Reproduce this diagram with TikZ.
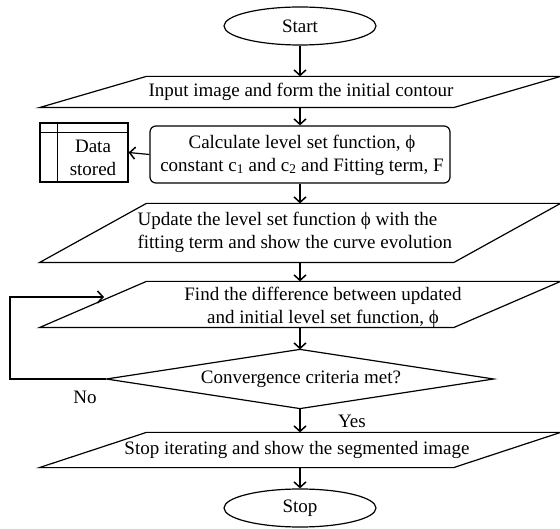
\documentclass[tikz,border=0pt]{standalone}
\usepackage{fontspec}
\setmainfont{Liberation Serif}
\usetikzlibrary{arrows.meta,shapes.geometric}
\begin{document}
\begin{tikzpicture}[x=1pt,y=-1pt,line width=1.2pt,
  arr/.style={-{Straight Barb[length=5.5pt,width=12pt,line width=1.5pt]},line width=1.2pt},
  txt/.style={font=\fontsize{19}{23}\selectfont,inner sep=0pt,align=center},
  term/.style={ellipse,draw,minimum width=152pt,minimum height=38pt,inner sep=0pt,font=\fontsize{19}{23}\selectfont},
  pbox/.style={rectangle,draw=none,minimum width=413pt,inner sep=0pt},
  calcbox/.style={rectangle,draw,rounded corners=6pt,minimum width=300pt,minimum height=57pt,inner sep=0pt},
  databox/.style={rectangle,draw,minimum width=88pt,minimum height=59pt,inner sep=0pt}]
\useasboundingbox (0,0) rectangle (560,529);

\node[term] (start) at (300,26) {Start};

\node[pbox,minimum height=30pt] (input) at (300,92) {};
\draw ([xshift=53.5pt]input.north west) -- ([xshift=53.5pt]input.north east) -- ([xshift=-53.5pt]input.south east) -- ([xshift=-53.5pt]input.south west) -- cycle;
\node[txt] (inputt) at (301,92) {Input image and form the initial contour};

\node[calcbox] (calc) at (300,154.5) {};
\node[txt] (calct) at (302,155) {Calculate level set function, ϕ\\constant c\textsubscript{1} and c\textsubscript{2} and Fitting term, F};

\node[databox] (data) at (84,152.5) {};
\draw ([yshift=-10pt]data.north west) -- ([yshift=-10pt]data.north east);
\draw ([xshift=18pt]data.north west) -- ([xshift=18pt]data.south west);
\node[txt] (datat) at (93,158) {Data\\stored};

\node[pbox,minimum height=58pt] (update) at (300,233) {};
\draw ([xshift=53.5pt]update.north west) -- ([xshift=53.5pt]update.north east) -- ([xshift=-53.5pt]update.south east) -- ([xshift=-53.5pt]update.south west) -- cycle;
\node[txt,align=left,anchor=west] (updatet) at (137,232) {Update the level set function ϕ with the\\fitting term and show the curve evolution};

\node[pbox,minimum height=45pt] (find) at (300,304.5) {};
\draw ([xshift=53.5pt]find.north west) -- ([xshift=53.5pt]find.north east) -- ([xshift=-53.5pt]find.south east) -- ([xshift=-53.5pt]find.south west) -- cycle;
\node[txt] (findt) at (323,307) {Find the difference between updated\\and initial level set function, ϕ};

\node[rectangle,draw=none,minimum width=386pt,minimum height=58pt,inner sep=0pt] (dec) at (300,379) {};
\draw (dec.north) -- (dec.east) -- (dec.south) -- (dec.west) -- cycle;
\node[txt] (dect) at (301,379) {Convergence criteria met?};

\node[pbox,minimum height=34pt] (stopp) at (300,450) {};
\draw ([xshift=53.5pt]stopp.north west) -- ([xshift=53.5pt]stopp.north east) -- ([xshift=-53.5pt]stopp.south east) -- ([xshift=-53.5pt]stopp.south west) -- cycle;
\node[txt] (stoppt) at (297,450) {Stop iterating and show the segmented image};

\node[term] (stop) at (300,508) {Stop};

\draw[arr] (start) -- (input);
\draw[arr] (input) -- (calc);
\draw[arr] (calc.west) -- (data.east);
\draw[arr] (calc) -- (update);
\draw[arr] (update) -- (find);
\draw[arr] (find) -- (dec.north);
\draw[arr] (dec.south) -- (stopp);
\draw[arr] (stopp) -- (stop);
\coordinate (loopend) at (104,297);
\draw[arr] (dec.west) -- (10,379) -- (10,297) -- (loopend);

\node[txt] (no) at (85,397) {No};
\node[txt] (yes) at (352,421) {Yes};
\end{tikzpicture}
\end{document}
